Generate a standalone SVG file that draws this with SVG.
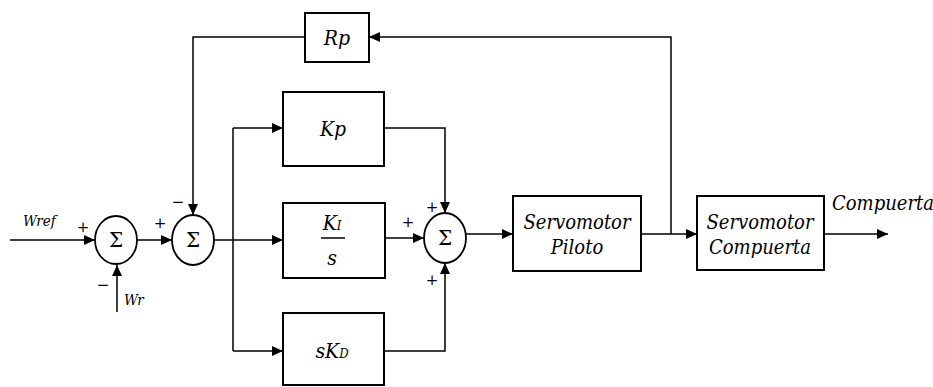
<svg xmlns="http://www.w3.org/2000/svg" width="933" height="387" viewBox="0 0 933 387">
<defs>
<marker id="ah" markerUnits="userSpaceOnUse" markerWidth="12" markerHeight="10" refX="11" refY="5" orient="auto">
<path d="M0,0 L11,5 L0,10 Z" fill="#000"/>
</marker>
<style>
.box{fill:#fff;stroke:#000;stroke-width:2}
.sum{fill:#fff;stroke:#000;stroke-width:1.8}
.ln{fill:none;stroke:#000;stroke-width:1.5}
.arr{fill:none;stroke:#000;stroke-width:1.5;marker-end:url(#ah)}
text{font-family:'DejaVu Serif Condensed','DejaVu Serif',serif;fill:#000}
.t{font-style:italic;font-size:21px;text-anchor:middle}
.sv{font-size:20px}
.sg{font-family:'DejaVu Serif',serif;font-size:15px;text-anchor:middle}
.sig{font-family:'DejaVu Serif',serif;font-size:20px;text-anchor:middle}
</style>
</defs>
<rect width="933" height="387" fill="#fff"/>
<g id="connectors">
<line class="arr" x1="10" y1="240" x2="95" y2="240"/>
<line class="arr" x1="117" y1="312" x2="117" y2="265"/>
<line class="arr" x1="137" y1="240" x2="172" y2="240"/>
<line class="arr" x1="214" y1="240" x2="283" y2="240"/>
<line class="ln" x1="233" y1="128" x2="233" y2="351"/>
<line class="arr" x1="233" y1="128" x2="283" y2="128"/>
<line class="arr" x1="233" y1="351" x2="283" y2="351"/>
<polyline class="arr" points="384,128 445,128 445,213"/>
<line class="arr" x1="385" y1="238" x2="424" y2="238"/>
<polyline class="arr" points="384,351 445,351 445,263"/>
<line class="arr" x1="466" y1="234" x2="513" y2="234"/>
<line class="arr" x1="641" y1="234" x2="697" y2="234"/>
<polyline class="arr" points="671,234 671,37 369,37"/>
<polyline class="arr" points="305,37 193,37 193,215"/>
<line class="arr" x1="824" y1="234" x2="888" y2="234"/>
</g>
<g id="sum1">
<ellipse class="sum" cx="116" cy="240" rx="21" ry="24"/>
<text class="sig" x="116" y="247">Σ</text>
<text class="sg" x="83" y="232">+</text>
<text class="sg" x="103" y="290">−</text>
</g>
<g id="wref"><text class="t" style="font-size:15px;text-anchor:start" x="23" y="226">Wref</text></g>
<g id="wr"><text class="t" style="font-size:15px;text-anchor:start" x="124" y="305">Wr</text></g>
<g id="sum2">
<ellipse class="sum" cx="193" cy="240" rx="21" ry="25"/>
<text class="sig" x="193" y="247">Σ</text>
<text class="sg" x="160" y="228">+</text>
<text class="sg" x="178" y="207">−</text>
</g>
<g id="rp">
<rect class="box" x="305" y="13" width="64" height="49"/>
<text class="t" x="337" y="45">Rp</text>
</g>
<g id="kp">
<rect class="box" x="283" y="92" width="101" height="74"/>
<text class="t" x="333" y="136">Kp</text>
</g>
<g id="ki">
<rect class="box" x="283" y="203" width="102" height="75"/>
<text class="t" x="332" y="230">K<tspan style="font-size:13px">I</tspan></text>
<line class="ln" x1="321" y1="238" x2="345" y2="238"/>
<text class="t" x="332" y="265">s</text>
</g>
<g id="skd">
<rect class="box" x="283" y="313" width="101" height="72"/>
<text class="t" x="332" y="358">sK<tspan style="font-size:13px">D</tspan></text>
</g>
<g id="sum3">
<ellipse class="sum" cx="445" cy="238" rx="21" ry="25"/>
<text class="sig" x="445" y="245">Σ</text>
<text class="sg" x="408" y="227">+</text>
<text class="sg" x="432" y="212">+</text>
<text class="sg" x="432" y="285">+</text>
</g>
<g id="piloto">
<rect class="box" x="513" y="196" width="128" height="75"/>
<text class="t sv" x="577" y="229">Servomotor</text>
<text class="t sv" x="577" y="254">Piloto</text>
</g>
<g id="compuerta">
<rect class="box" x="697" y="196" width="127" height="74"/>
<text class="t sv" x="760" y="229">Servomotor</text>
<text class="t sv" x="760" y="254">Compuerta</text>
</g>
<g id="output"><text class="t" style="font-size:20px;text-anchor:start" x="832" y="210">Compuerta</text></g>
</svg>
